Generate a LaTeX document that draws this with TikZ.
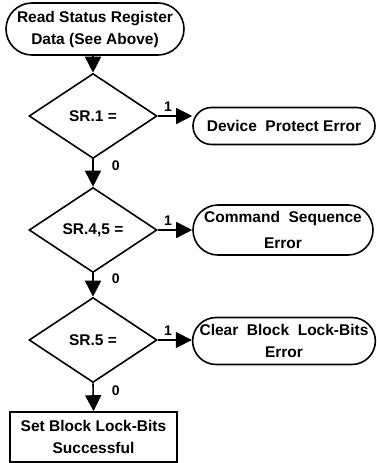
\documentclass[tikz,border=0pt]{standalone}
\usepackage{fontspec}
\setmainfont{Liberation Sans}
\usetikzlibrary{shapes.geometric,shapes.misc,arrows.meta}
\begin{document}
\begin{tikzpicture}[x=1pt,y=-1pt,line width=1.6pt,
  font=\bfseries\fontsize{15.5}{22}\selectfont,
  term/.style={rounded rectangle,draw,align=center,inner sep=0pt},
  dec/.style={diamond,draw,minimum width=128pt,minimum height=85pt,inner sep=0pt,aspect=1.5},
  box/.style={rectangle,draw,align=center,inner sep=0pt},
  arr/.style={-{Triangle[length=16pt,width=16pt]}},
  lbl/.style={font=\bfseries\fontsize{14}{16}\selectfont,inner sep=1pt}]
\useasboundingbox (0,0) rectangle (377,463);

% start terminal
\node[term,minimum width=178pt,minimum height=52pt] (start) at (95,29)
  {Read Status Register\\Data (See Above)};

% decisions
\node[dec] (d1) at (93,116) {SR.1 =};
\node[dec] (d2) at (93,230) {SR.4,5 =};
\node[dec] (d3) at (93,340) {SR.5 =};

% error terminals
\node[term,minimum width=182pt,minimum height=37pt] (e1) at (284,126)
  {Device\ \ Protect Error};
\node[term,minimum width=180pt,minimum height=50pt,
  font=\bfseries\fontsize{15.5}{26}\selectfont] (e2) at (283,230)
  {Command\ \ Sequence\\Error};
\node[term,minimum width=178pt,minimum height=47pt] (e3) at (284,341)
  {Clear\ \ Block\ \ Lock-Bits\\Error};

% success box
\node[box,minimum width=167pt,minimum height=50pt] (ok) at (93.5,437)
  {Set Block Lock-Bits\\Successful};

% main flow
\draw[arr] (start.south -| d1.north) -- (d1.north);
\draw[arr] (d1.south) -- (d2.north) node[lbl,pos=0.25,right=17pt] {0};
\draw[arr] (d2.south) -- (d3.north) node[lbl,pos=0.25,right=17pt] {0};
\draw[arr] (d3.south) -- (ok.north) node[lbl,pos=0.25,right=17pt] {0};

% error branches
\draw[arr] (d1.east) -- (d1.east -| e1.west) node[lbl,pos=0.3,above=3pt] {1};
\draw[arr] (d2.east) -- (d2.east -| e2.west) node[lbl,pos=0.3,above=3pt] {1};
\draw[arr] (d3.east) -- (d3.east -| e3.west) node[lbl,pos=0.3,above=3pt] {1};
\end{tikzpicture}
\end{document}
